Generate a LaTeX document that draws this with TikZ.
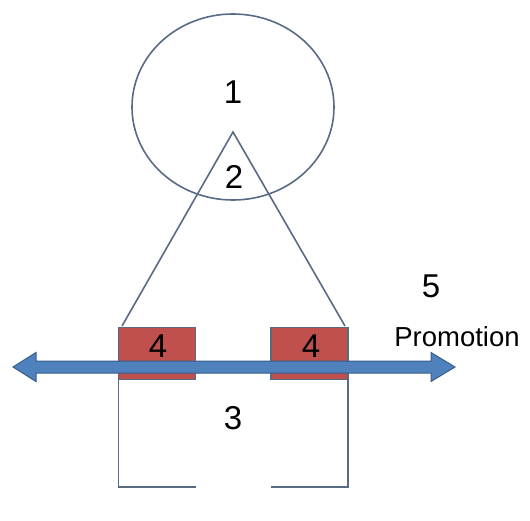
\documentclass[tikz,border=0pt]{standalone}
\usepackage{fontspec}
\setmainfont{Liberation Sans}
\usetikzlibrary{shapes.geometric}
\definecolor{edgegray}{RGB}{89,106,132}
\definecolor{boxred}{RGB}{192,80,77}
\definecolor{arrowblue}{RGB}{79,129,189}
\definecolor{arrowdark}{RGB}{56,93,138}
\begin{document}
\begin{tikzpicture}[x=1pt,y=-1pt,
  lbl/.style={font=\fontsize{33}{38}\selectfont, inner sep=0pt},
  redbox/.style={draw=edgegray, line width=1.6pt, fill=boxred, minimum width=77pt, minimum height=52pt, inner sep=0pt, outer sep=0pt},
  edge/.style={draw=edgegray, line width=1.6pt}]
\useasboundingbox (0,0) rectangle (530,520);
\node[edge, ellipse, minimum width=202pt, minimum height=186pt] (head) at (233,107) {};
\node[redbox] (box4l) at (157,353.5) {};
\node[redbox] (box4r) at (309.5,353.5) {};
\coordinate (apex) at (233,132);
\coordinate (footl) at (122,326);
\coordinate (footr) at (345,326);
\coordinate (floor) at (0,487);
\draw[edge] (footl) -- (apex) -- (footr);
\draw[edge] (box4l.south west) -- (box4l.south west |- floor) -- (box4l.south east |- floor);
\draw[edge] (box4r.south east) -- (box4r.south east |- floor) -- (box4r.south west |- floor);
% double arrow
\draw[fill=arrowblue, draw=arrowdark, line width=1pt, line join=miter]
  (13,367) -- (36,352.5) -- (36,361) -- (431,361) -- (431,352.5) -- (455,367)
  -- (431,381.5) -- (431,373) -- (36,373) -- (36,381.5) -- cycle;
\node[lbl] (n1) at (233,92) {1};
\node[lbl] (n2) at (234,177) {2};
\node[lbl] (n3) at (233,418) {3};
\node[lbl] (n4l) at (158,346) {4};
\node[lbl] (n4r) at (311,346) {4};
\node[lbl] (n5) at (431,286) {5};
\node[font=\fontsize{27.5}{32}\selectfont, inner sep=0pt] (promo) at (457,337) {Promotion};
\end{tikzpicture}
\end{document}
